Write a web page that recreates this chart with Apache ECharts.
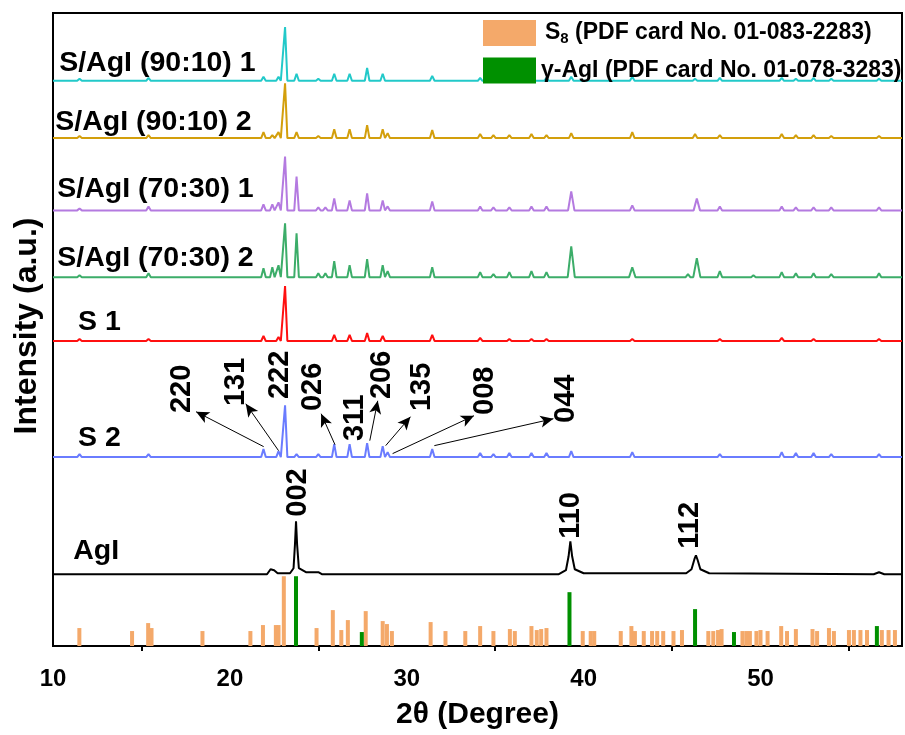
<!DOCTYPE html>
<html>
<head>
    <meta charset="utf-8">
    <title>XRD</title>
    <style>
        * { margin: 0; padding: 0; }
        #main { width: 905px; height: 735px; }
    </style>
    <script src="https://cdn.jsdelivr.net/npm/echarts@6/dist/echarts.min.js"></script>
</head>
<body>
    <div id="main"></div>
    <script>
        const FONT = "'Liberation Sans', Arial, sans-serif";

        // trace names and colours, top to bottom
        const traceNames = ['S/AgI (90:10) 1', 'S/AgI (90:10) 2', 'S/AgI (70:30) 1', 'S/AgI (70:30) 2', 'S 1', 'S 2', 'AgI'];
        const traceColors = ['#22c9c9', '#d39f0c', '#b47ae0', '#3cad69', '#ff1010', '#6a7cff', '#000000'];
        // vertical offset of each pattern (a.u.)
        const traceOffsets = [567, 509.5, 437, 370, 306, 189.5, 72];

        // peaks: [2theta, height, half width]
        const peaksCyan = [[11.5, 2], [15.4, 3], [21.9, 4], [22.75, 4], [23.12, 54], [23.77, 7], [25.0, 2], [25.9, 7], [26.77, 7], [27.76, 13], [28.64, 7], [31.44, 5],
            [34.15, 3], [34.9, 2], [35.8, 2], [37.05, 3], [37.9, 3], [39.3, 4], [42.75, 4], [46.3, 2], [47.7, 3], [51.2, 3], [52.0, 2], [53.0, 3], [54.0, 2], [56.7, 2]];
        const peaksGold = [[11.5, 2], [15.4, 3], [21.9, 6], [22.4, 3], [22.75, 6], [23.12, 55], [23.77, 6], [25.0, 2], [25.9, 9], [26.77, 9], [27.76, 13], [28.64, 9], [28.92, 5], [31.44, 8],
            [34.15, 4], [34.9, 3], [35.8, 3], [37.05, 4], [37.9, 3], [39.3, 5], [42.75, 6], [46.3, 4], [47.7, 3], [51.2, 4], [52.0, 3], [53.0, 3], [54.0, 2], [56.7, 2]];
        const peaksPurple = [[11.5, 2], [15.4, 4], [21.9, 6], [22.4, 6], [22.75, 8], [23.12, 54], [23.77, 34], [25.0, 3], [25.4, 3], [25.9, 12], [26.77, 10], [27.76, 17], [28.64, 10], [28.92, 4], [31.44, 9],
            [34.15, 4], [34.9, 3], [35.8, 3], [37.05, 4], [37.9, 4], [39.3, 19, 0.18], [42.75, 5], [46.4, 12, 0.18], [47.7, 4], [51.2, 4], [52.0, 3], [53.0, 3], [54.0, 3], [56.7, 3]];
        const peaksGreen = [[11.5, 2], [15.4, 4], [21.9, 9], [22.4, 10], [22.75, 12], [23.12, 54], [23.77, 44], [25.0, 4], [25.4, 4], [25.9, 16], [26.77, 12], [27.76, 18], [28.64, 12], [28.92, 6], [31.44, 10],
            [34.15, 5], [34.9, 3], [35.8, 5], [37.05, 6], [37.9, 5], [39.3, 31, 0.2], [42.75, 10, 0.18], [45.9, 3], [46.4, 19, 0.2], [47.7, 6], [49.6, 2], [51.2, 5], [52.0, 4], [53.0, 4], [54.0, 3], [56.7, 4]];
        const peaksRed = [[11.5, 2], [15.4, 2], [21.9, 5], [22.75, 4], [23.12, 55], [25.9, 6], [26.77, 6], [27.76, 8], [28.64, 5], [31.44, 6],
            [34.15, 3], [35.8, 2], [37.05, 2], [37.9, 2], [42.75, 2], [47.7, 2], [51.2, 3], [53.0, 2], [56.7, 2]];
        const peaksBlue = [[11.5, 3], [15.4, 3], [21.9, 8], [22.75, 6], [23.12, 52], [23.77, 3], [25.0, 3], [25.9, 13], [26.77, 13], [27.76, 14], [28.64, 11], [28.92, 5], [31.44, 8],
            [34.15, 4], [34.9, 3], [35.8, 4], [37.05, 4], [37.9, 4], [39.3, 6], [42.75, 5], [47.7, 3], [51.2, 5], [52.0, 4], [53.0, 4], [54.0, 3], [56.7, 3]];
        const tracePeaks = [peaksCyan, peaksGold, peaksPurple, peaksGreen, peaksRed, peaksBlue];

        // AgI pattern read point by point: [2theta, height above its baseline]
        const patternAgI = [[10, 0], [22.1, 0], [22.3, 5], [22.4, 7], [22.5, 4], [22.7, 1], [23.4, 1], [23.6, 6], [23.68, 30], [23.74, 53], [23.8, 30], [23.9, 6],
            [24.3, 2], [25.0, 2], [25.2, 0], [38.6, 0], [39.0, 4], [39.15, 18], [39.25, 33], [39.35, 18], [39.5, 5], [40.0, 1],
            [42.7, 1], [45.8, 1], [46.1, 5], [46.28, 16], [46.35, 19], [46.45, 14], [46.6, 5], [47.1, 1], [56.4, 0], [56.7, 2], [57.0, 0], [58, 0]];

        // reference cards: [2theta, relative intensity]
        const cardS8 = [[11.49, 18], [14.47, 15], [15.38, 23], [15.57, 18], [18.45, 15], [21.16, 15], [21.87, 21], [22.6, 21], [22.75, 21], [23.05, 70],
            [24.9, 18], [25.82, 36], [26.3, 16], [26.67, 26], [27.68, 35], [28.64, 25], [28.88, 22], [29.16, 15], [31.35, 24], [32.19, 15],
            [33.31, 15], [34.15, 20], [34.9, 15], [35.83, 17], [36.11, 15], [37.05, 20], [37.35, 16], [37.6, 17], [37.9, 18], [39.95, 15],
            [40.4, 15], [40.6, 15], [42.1, 15], [42.7, 20], [42.9, 15], [43.4, 15], [43.87, 15], [44.16, 15], [44.5, 15], [45.08, 15],
            [45.56, 16], [47.05, 15], [47.33, 15], [47.6, 16], [47.8, 17], [48.98, 15], [49.2, 15], [49.4, 15], [49.77, 15], [50.0, 16],
            [50.4, 15], [51.17, 20], [51.5, 15], [52.0, 17], [52.94, 17], [53.2, 15], [53.87, 18], [54.15, 15], [55.0, 16], [55.28, 16],
            [55.65, 16], [56.02, 16], [56.86, 16], [57.24, 16], [57.6, 16]];
        const cardAgI = [[23.74, 70], [27.46, 14], [39.2, 54], [46.3, 37], [48.5, 14], [56.58, 20]];

        // trace label anchors [2theta, a.u.]
        const labelPos = [[10.35, 585], [10.13, 526], [10.24, 458], [10.24, 389], [11.42, 325], [11.42, 209], [11.14, 95]];

        // hkl labels [2theta, a.u., text]
        const hklLabels = [[17.31, 258, '220'], [20.34, 265, '131'], [22.86, 272, '222'], [24.71, 260, '026'], [27.07, 229, '311'],
            [28.59, 272, '206'], [30.89, 260, '135'], [34.41, 256, '008'], [39.01, 248, '044'],
            [23.87, 154, '002'], [39.29, 131, '110'], [46.02, 121, '112']];
        // arrows [from, to]
        const hklArrows = [[[21.91, 200], [18.09, 235]], [[22.75, 196], [20.9, 243]], [[25.94, 202], [25.16, 233]], [[27.91, 206], [28.36, 246]],
            [[28.81, 201], [30.21, 230]], [[29.2, 193], [33.8, 231]], [[31.56, 201], [38.29, 228]]];

        function profile(offset, peaks) {
            const pts = [[10, offset]];
            peaks.forEach(p => {
                const w = p[2] || 0.13;
                pts.push([p[0] - w, offset], [p[0], offset + p[1]], [p[0] + w, offset]);
            });
            pts.push([58, offset]);
            return pts;
        }

        const chart = echarts.init(document.getElementById('main'));

        const series = [
            {
                name: 'S8', type: 'bar', data: cardS8, barWidth: 4, barGap: '-100%',
                itemStyle: { color: '#f4a96a' }, z: 1
            },
            {
                name: 'γ-AgI', type: 'bar', data: cardAgI, barWidth: 4, barGap: '-100%',
                itemStyle: { color: '#009000' }, z: 2
            }
        ];

        traceNames.forEach((n, i) => {
            const off = traceOffsets[i];
            const data = i < 6 ? profile(off, tracePeaks[i]) : patternAgI.map(p => [p[0], off + p[1]]);
            const s = {
                name: n, type: 'line', data: data,
                symbol: 'none', lineStyle: { color: traceColors[i], width: 2 }, z: 3
            };
            if (i === 5) {
                s.markLine = {
                    silent: true, symbol: ['none', 'arrow'], symbolSize: [9, 13],
                    label: { show: false },
                    lineStyle: { color: '#000', width: 1, type: 'solid' },
                    data: hklArrows.map(a => [{ coord: a[0] }, { coord: a[1] }])
                };
            }
            series.push(s);
        });

        series.push({
            type: 'scatter', silent: true, symbolSize: 0, z: 5,
            data: labelPos.map((p, i) => ({ value: p, name: traceNames[i] })),
            label: {
                show: true, position: 'right', distance: 0, formatter: p => p.name, opacity: 1,
                color: '#000', fontSize: 28.5, fontWeight: 'bold', fontFamily: FONT, textBorderWidth: 0
            }
        });
        series.push({
            type: 'scatter', silent: true, symbolSize: 0, z: 5,
            data: hklLabels.map(h => ({ value: [h[0], h[1]], name: h[2] })),
            label: {
                show: true, position: 'inside', rotate: 90, formatter: p => p.name, opacity: 1,
                align: 'center', verticalAlign: 'middle', textBorderWidth: 0,
                color: '#000', fontSize: 29, fontWeight: 'bold', fontFamily: FONT
            }
        });

        const option = {
            animation: false,
            backgroundColor: '#fff',
            grid: { left: 53, right: -3.5, top: 13, bottom: 87, show: true, borderColor: '#000', borderWidth: 2 },
            legend: {
                data: ['S8', 'γ-AgI'], orient: 'vertical', left: 478, top: 15,
                itemWidth: 53, itemHeight: 26, itemGap: 11, icon: 'rect',
                formatter: n => n === 'S8' ? '{q|S}{s|8}{p| (PDF card No. 01-083-2283)}' : '{p|γ-AgI (PDF card No. 01-078-3283)}',
                textStyle: {
                    color: '#000',
                    rich: {
                        q: { fontSize: 23, fontWeight: 'bold', fontFamily: FONT, color: '#000', padding: [0, 0, 0, 4] },
                        p: { fontSize: 23, fontWeight: 'bold', fontFamily: FONT, color: '#000' },
                        s: { fontSize: 15, fontWeight: 'bold', fontFamily: FONT, color: '#000', padding: [12, 0, 0, 0] }
                    }
                }
            },
            xAxis: {
                type: 'value', min: 10, max: 58, interval: 10,
                name: '2θ (Degree)', nameLocation: 'middle', nameGap: 54,
                nameTextStyle: { fontSize: 30, fontWeight: 'bold', fontFamily: FONT, color: '#000' },
                axisLine: { lineStyle: { color: '#000', width: 2 } },
                axisTick: { show: false },
                minorTick: { show: true, splitNumber: 2, length: 5, lineStyle: { color: '#000', width: 2 } },
                axisLabel: {
                    fontSize: 24, fontWeight: 'bold', fontFamily: FONT, color: '#000', margin: 21,
                    formatter: v => v > 57 ? '' : v
                },
                splitLine: { show: false }
            },
            yAxis: {
                type: 'value', min: 0, max: 635,
                axisLine: { show: true, lineStyle: { color: '#000', width: 2 } },
                axisTick: { show: false }, axisLabel: { show: false }, splitLine: { show: false }
            },
            graphic: [{
                type: 'text', x: 27, y: 326, rotation: Math.PI / 2,
                style: {
                    text: 'Intensity (a.u.)', fontSize: 32, fontWeight: 'bold', fontFamily: FONT,
                    fill: '#000', align: 'center', verticalAlign: 'middle'
                }
            }],
            series: series
        };
        chart.setOption(option);
    </script>
</body>
</html>
